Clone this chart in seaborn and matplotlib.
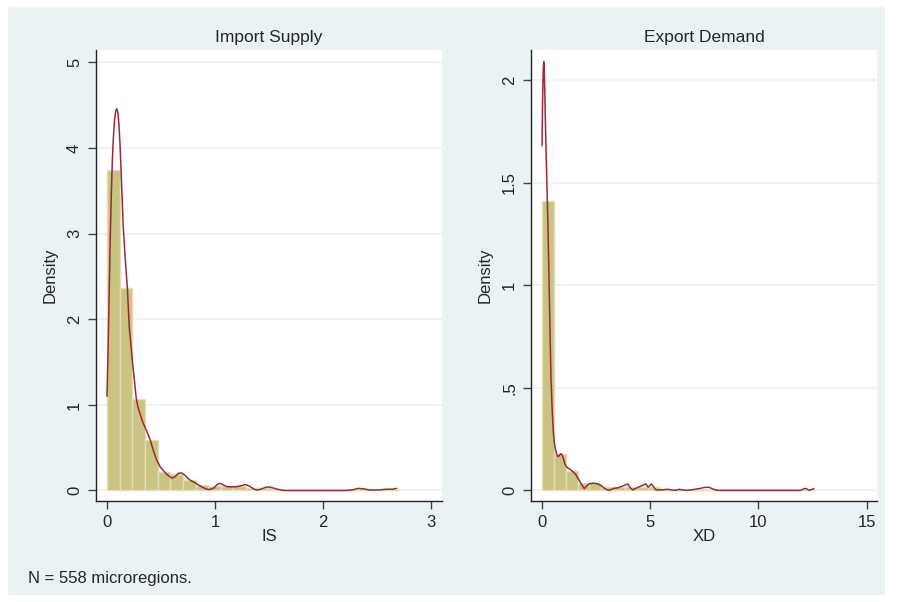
import numpy as np
import pandas as pd
import matplotlib.pyplot as plt
import seaborn as sns
from matplotlib.patches import Rectangle

# Histogram bar heights (density), 23 bins each
is_bin_start = 0.0
is_bin_width = 0.117
is_density = [3.74, 2.37, 1.07, 0.59, 0.21, 0.19, 0.12, 0.06, 0.05, 0.05,
              0.05, 0.03, 0.03, 0.015, 0, 0, 0, 0, 0, 0, 0.015, 0, 0.015]

xd_bin_start = 0.0
xd_bin_width = 0.5465
xd_density = [1.41, 0.177, 0.092, 0.034, 0.038, 0.016, 0.016, 0.018, 0.018, 0.016,
              0.005, 0, 0, 0.004, 0.004, 0, 0, 0, 0, 0, 0, 0, 0.004]

# Kernel density curves
is_kde_x = [0.0, 0.01, 0.02, 0.03, 0.04, 0.05, 0.06, 0.07, 0.08, 0.09, 0.10,
            0.11, 0.12, 0.13, 0.14, 0.15, 0.17, 0.188, 0.206, 0.234, 0.255,
            0.27, 0.285, 0.305, 0.33, 0.35, 0.375, 0.40, 0.43, 0.46, 0.49,
            0.52, 0.56, 0.60, 0.63, 0.66, 0.69, 0.72, 0.745, 0.77, 0.80, 0.84,
            0.88, 0.92, 0.95, 0.99, 1.02, 1.046, 1.08, 1.11, 1.15, 1.2, 1.24,
            1.28, 1.32, 1.36, 1.39, 1.43, 1.47, 1.51, 1.56, 1.63, 1.8, 2.2,
            2.27, 2.33, 2.38, 2.43, 2.51, 2.59, 2.64, 2.68]
is_kde_y = [1.1, 1.65, 2.3, 2.95, 3.47, 3.88, 4.15, 4.33, 4.43, 4.46, 4.42,
            4.28, 4.05, 3.74, 3.42, 3.08, 2.68, 2.37, 1.91, 1.52, 1.27,
            1.08, 0.98, 0.9, 0.8, 0.745, 0.67, 0.59, 0.46, 0.356, 0.28,
            0.235, 0.18, 0.145, 0.16, 0.2, 0.205, 0.18, 0.145, 0.12, 0.1, 0.07,
            0.04, 0.016, 0.01, 0.03, 0.07, 0.084, 0.062, 0.044, 0.042, 0.044, 0.055,
            0.07, 0.05, 0.015, 0.005, 0.018, 0.038, 0.04, 0.02, 0.0, 0.0, 0.0,
            0.008, 0.025, 0.018, 0.005, 0.006, 0.015, 0.014, 0.025]

xd_kde_x = [0.0, 0.02, 0.04, 0.06, 0.08, 0.10, 0.13, 0.17, 0.21, 0.26, 0.31,
            0.36, 0.415, 0.47, 0.52, 0.57, 0.62, 0.68, 0.74, 0.80, 0.85,
            0.92, 1.0, 1.05, 1.13, 1.21, 1.35, 1.49, 1.57, 1.68, 1.8, 1.95,
            2.05, 2.18, 2.37, 2.57, 2.80, 2.95, 3.1, 3.34, 3.5, 3.65, 3.96,
            4.08, 4.19, 4.38, 4.57, 4.8, 4.9, 5.06, 5.26, 5.5, 5.8, 6.0, 6.18,
            6.34, 6.52, 6.72, 7.0, 7.34, 7.5, 7.72, 7.9, 8.1, 11.95, 12.07, 12.18,
            12.26, 12.34, 12.45, 12.57]
xd_kde_y = [1.68, 1.86, 1.98, 2.06, 2.09, 2.06, 1.93, 1.72, 1.55, 1.35, 1.1,
            0.82, 0.54, 0.39, 0.29, 0.23, 0.2, 0.175, 0.164, 0.17, 0.178,
            0.175, 0.15, 0.13, 0.115, 0.108, 0.098, 0.085, 0.075, 0.055, 0.034, 0.008,
            0.02, 0.032, 0.035, 0.032, 0.018, 0.005, 0.0, 0.01, 0.012, 0.018, 0.031,
            0.012, 0.002, 0.012, 0.021, 0.031, 0.015, 0.031, 0.002, 0.002, 0.005, 0.002,
            0.0, 0.005, 0.002, 0.0, 0.004, 0.01, 0.014, 0.015, 0.006, 0.0, 0.0, 0.006,
            0.01, 0.005, 0.0, 0.004, 0.008]

panels = [
    dict(title='Import Supply', xlabel='IS', start=is_bin_start, width=is_bin_width,
         dens=is_density, kx=is_kde_x, ky=is_kde_y,
         xticks=[0, 1, 2, 3], xticklabels=['0', '1', '2', '3'],
         yticks=[0, 1, 2, 3, 4, 5], yticklabels=['0', '1', '2', '3', '4', '5'],
         xlim=(-0.102, 3.10), ylim=(-0.123, 5.146), left=96),
    dict(title='Export Demand', xlabel='XD', start=xd_bin_start, width=xd_bin_width,
         dens=xd_density, kx=xd_kde_x, ky=xd_kde_y,
         xticks=[0, 5, 10, 15], xticklabels=['0', '5', '10', '15'],
         yticks=[0, 0.5, 1, 1.5, 2], yticklabels=['0', '.5', '1', '1.5', '2'],
         xlim=(-0.51, 15.48), ylim=(-0.052, 2.147), left=531),
]

bg = '#EAF2F3'
bar_color = '#C9C483'
bar_edge = '#E2DFB4'
line_color = '#9A2A38'

sns.set_style('white')
plt.rcParams['font.family'] = ['Liberation Sans', 'DejaVu Sans']

W, H = 899, 602
fig = plt.figure(figsize=(W / 100, H / 100), dpi=100, facecolor='white')
fig.patches.append(Rectangle((8 / W, 1 - 595 / H), 877 / W, 588 / H,
                             transform=fig.transFigure, facecolor=bg,
                             edgecolor='none', zorder=-10))

for p in panels:
    ax = fig.add_axes([p['left'] / W, 1 - 501 / H, 346 / W, 451 / H])
    ax.set_facecolor('white')

    n = len(p['dens'])
    edges = (p['start'] + p['width'] * np.arange(n + 1)).tolist()
    centers = [e + p['width'] / 2 for e in edges[:-1]]
    hist_df = pd.DataFrame({'x': centers, 'w': p['dens']})
    sns.histplot(data=hist_df, x='x', weights='w', bins=edges, stat='count',
                 color=bar_color, alpha=1, edgecolor=bar_edge, linewidth=1,
                 ax=ax, zorder=2)

    kde_df = pd.DataFrame({'x': p['kx'], 'y': p['ky']})
    sns.lineplot(data=kde_df, x='x', y='y', color=line_color, linewidth=1.1,
                 estimator=None, sort=False, ax=ax, zorder=3)

    ax.set_xlim(p['xlim'])
    ax.set_ylim(p['ylim'])
    ax.set_xticks(p['xticks'])
    ax.set_xticklabels(p['xticklabels'])
    ax.set_yticks(p['yticks'])
    ax.set_yticklabels(p['yticklabels'], rotation=90, va='center')
    ax.yaxis.grid(True, color=bg, linewidth=1.3)
    ax.xaxis.grid(False)
    ax.set_axisbelow(True)
    for s in ['top', 'right']:
        ax.spines[s].set_visible(False)
    for s in ['left', 'bottom']:
        ax.spines[s].set_color('#222222')
        ax.spines[s].set_linewidth(1.0)
    ax.tick_params(axis='both', direction='out', length=6, width=1,
                   color='#444444', labelsize=12, pad=4, left=True, bottom=True)

    ax.set_title(p['title'], fontsize=12.5, pad=6)
    ax.set_xlabel(p['xlabel'], fontsize=12)
    ax.set_ylabel('Density', fontsize=12)
    ax.xaxis.set_label_coords(0.5, -0.062)
    ax.yaxis.set_label_coords(-0.11, 0.5)

fig.text(28 / W, 1 - 579 / H, 'N = 558 microregions.', fontsize=12,
         ha='left', va='center')

fig.savefig('out.png', dpi=100, facecolor='white')
